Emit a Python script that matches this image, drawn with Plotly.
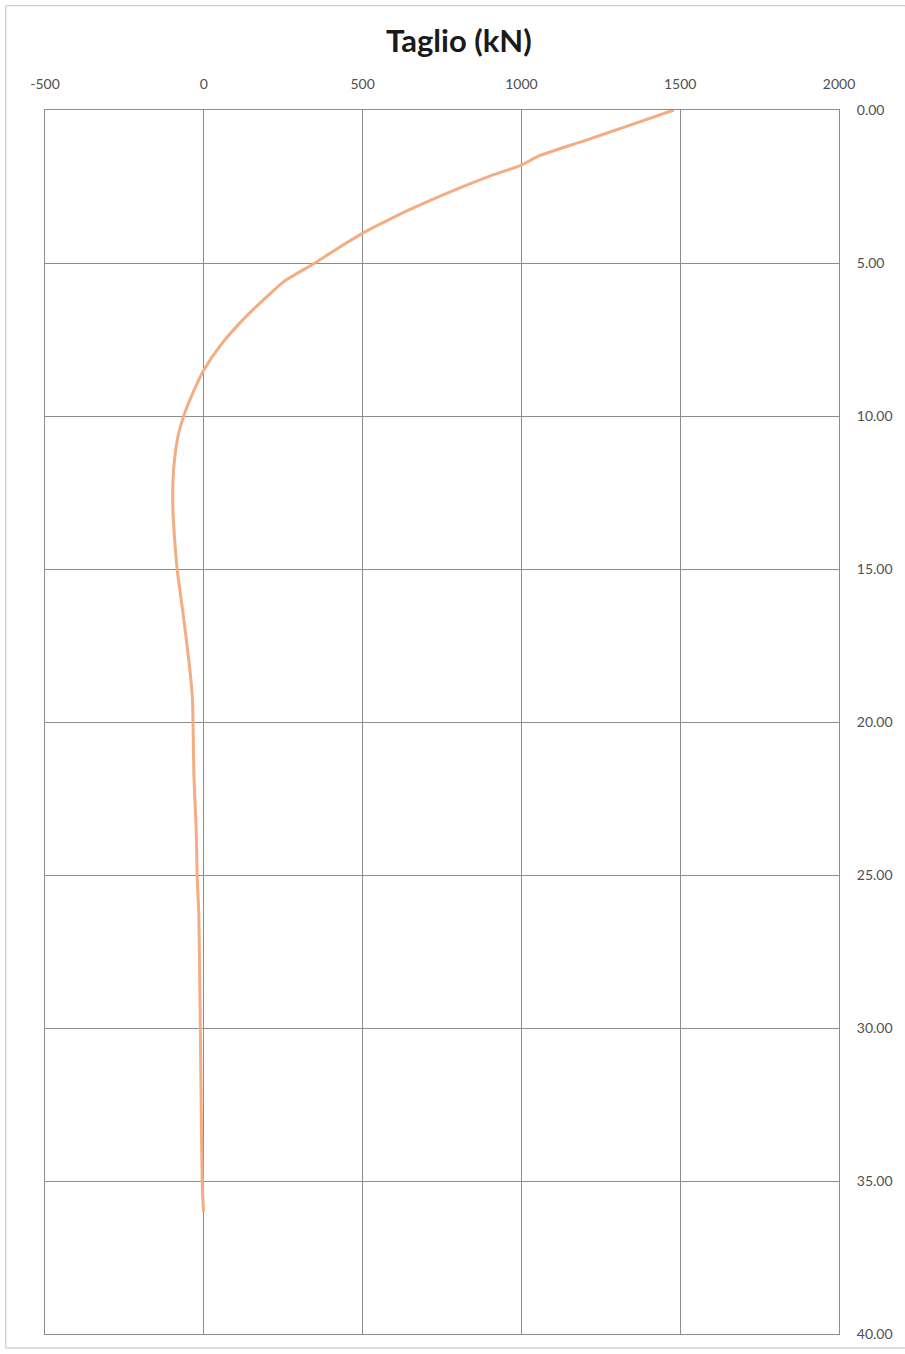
import plotly.graph_objects as go

depth_m = [0, 0.5, 1.0, 1.5, 1.8, 2.2, 2.7, 3.2, 3.6, 4.0, 4.5, 5.0, 5.6, 6.0, 6.9, 7.7,
           8.5, 8.8, 9.9, 10.65, 11.4, 12.1, 13.1, 14.0, 15.0, 16.4, 18.0, 19.2, 20.0,
           21.8, 23.5, 25.0, 26.2, 28.2, 30.0, 32.7, 35.0, 36.0]
shear_kN = [1480, 1340, 1200, 1055, 1000, 890, 770, 660, 580, 505, 425, 350, 253, 209, 119, 52,
            0, -15, -60, -81, -92, -97, -97, -92, -84, -66, -47, -36, -34,
            -31, -24, -21, -16, -13, -11, -8, -5, -1]

x_ticks = [-500, 0, 500, 1000, 1500, 2000]
y_ticks = [0, 5, 10, 15, 20, 25, 30, 35, 40]

W, H = 905, 1354
L, R, T, B = 45, 60, 110, 17
pw, ph = W - L - R, H - T - B

fig = go.Figure()
fig.add_trace(go.Scatter(x=shear_kN, y=depth_m, mode="lines", line_shape="spline",
                         line=dict(color="#F4AD82", width=3, smoothing=0.6), showlegend=False))

grid = "#8C8C8C"
font = dict(family="Lato, Open Sans, sans-serif", size=14, color="#505050")
fig.update_layout(
    width=W, height=H,
    margin=dict(l=L, r=R, t=T, b=B),
    paper_bgcolor="white", plot_bgcolor="white",
    title=dict(text="<b>Taglio (kN)</b>", x=(462 - L) / pw, xref="paper", xanchor="center",
               y=1 - 41 / H, yanchor="middle",
               font=dict(family="Lato, Open Sans, sans-serif", size=31, color="#1a1a1a")),
    xaxis=dict(side="top", range=[-500, 2000], tickvals=x_ticks,
               ticktext=[str(v) for v in x_ticks],
               showgrid=True, gridcolor=grid, gridwidth=1, zeroline=False,
               showline=True, linecolor=grid, linewidth=1, mirror=True,
               ticks="outside", ticklen=14, tickcolor="rgba(0,0,0,0)", tickfont=font),
    yaxis=dict(side="right", range=[40, 0], tickvals=y_ticks,
               ticktext=[f"{v:.2f}" for v in y_ticks],
               showgrid=True, gridcolor=grid, gridwidth=1, zeroline=False,
               showline=True, linecolor=grid, linewidth=1, mirror=True,
               ticks="outside", ticklen=14, tickcolor="rgba(0,0,0,0)", tickfont=font),
)

# outer chart-area border
fig.add_shape(type="rect", xref="paper", yref="paper",
              x0=(5.5 - L) / pw, x1=(912 - L) / pw,
              y0=(H - B - 1351) / ph, y1=(H - B - 5.5) / ph,
              line=dict(color="#BFBFBF", width=1), fillcolor="rgba(0,0,0,0)", layer="below")

fig.write_html("out.html", config={"displayModeBar": False},
               post_script="document.body.style.margin='0';document.body.style.overflow='hidden';")
